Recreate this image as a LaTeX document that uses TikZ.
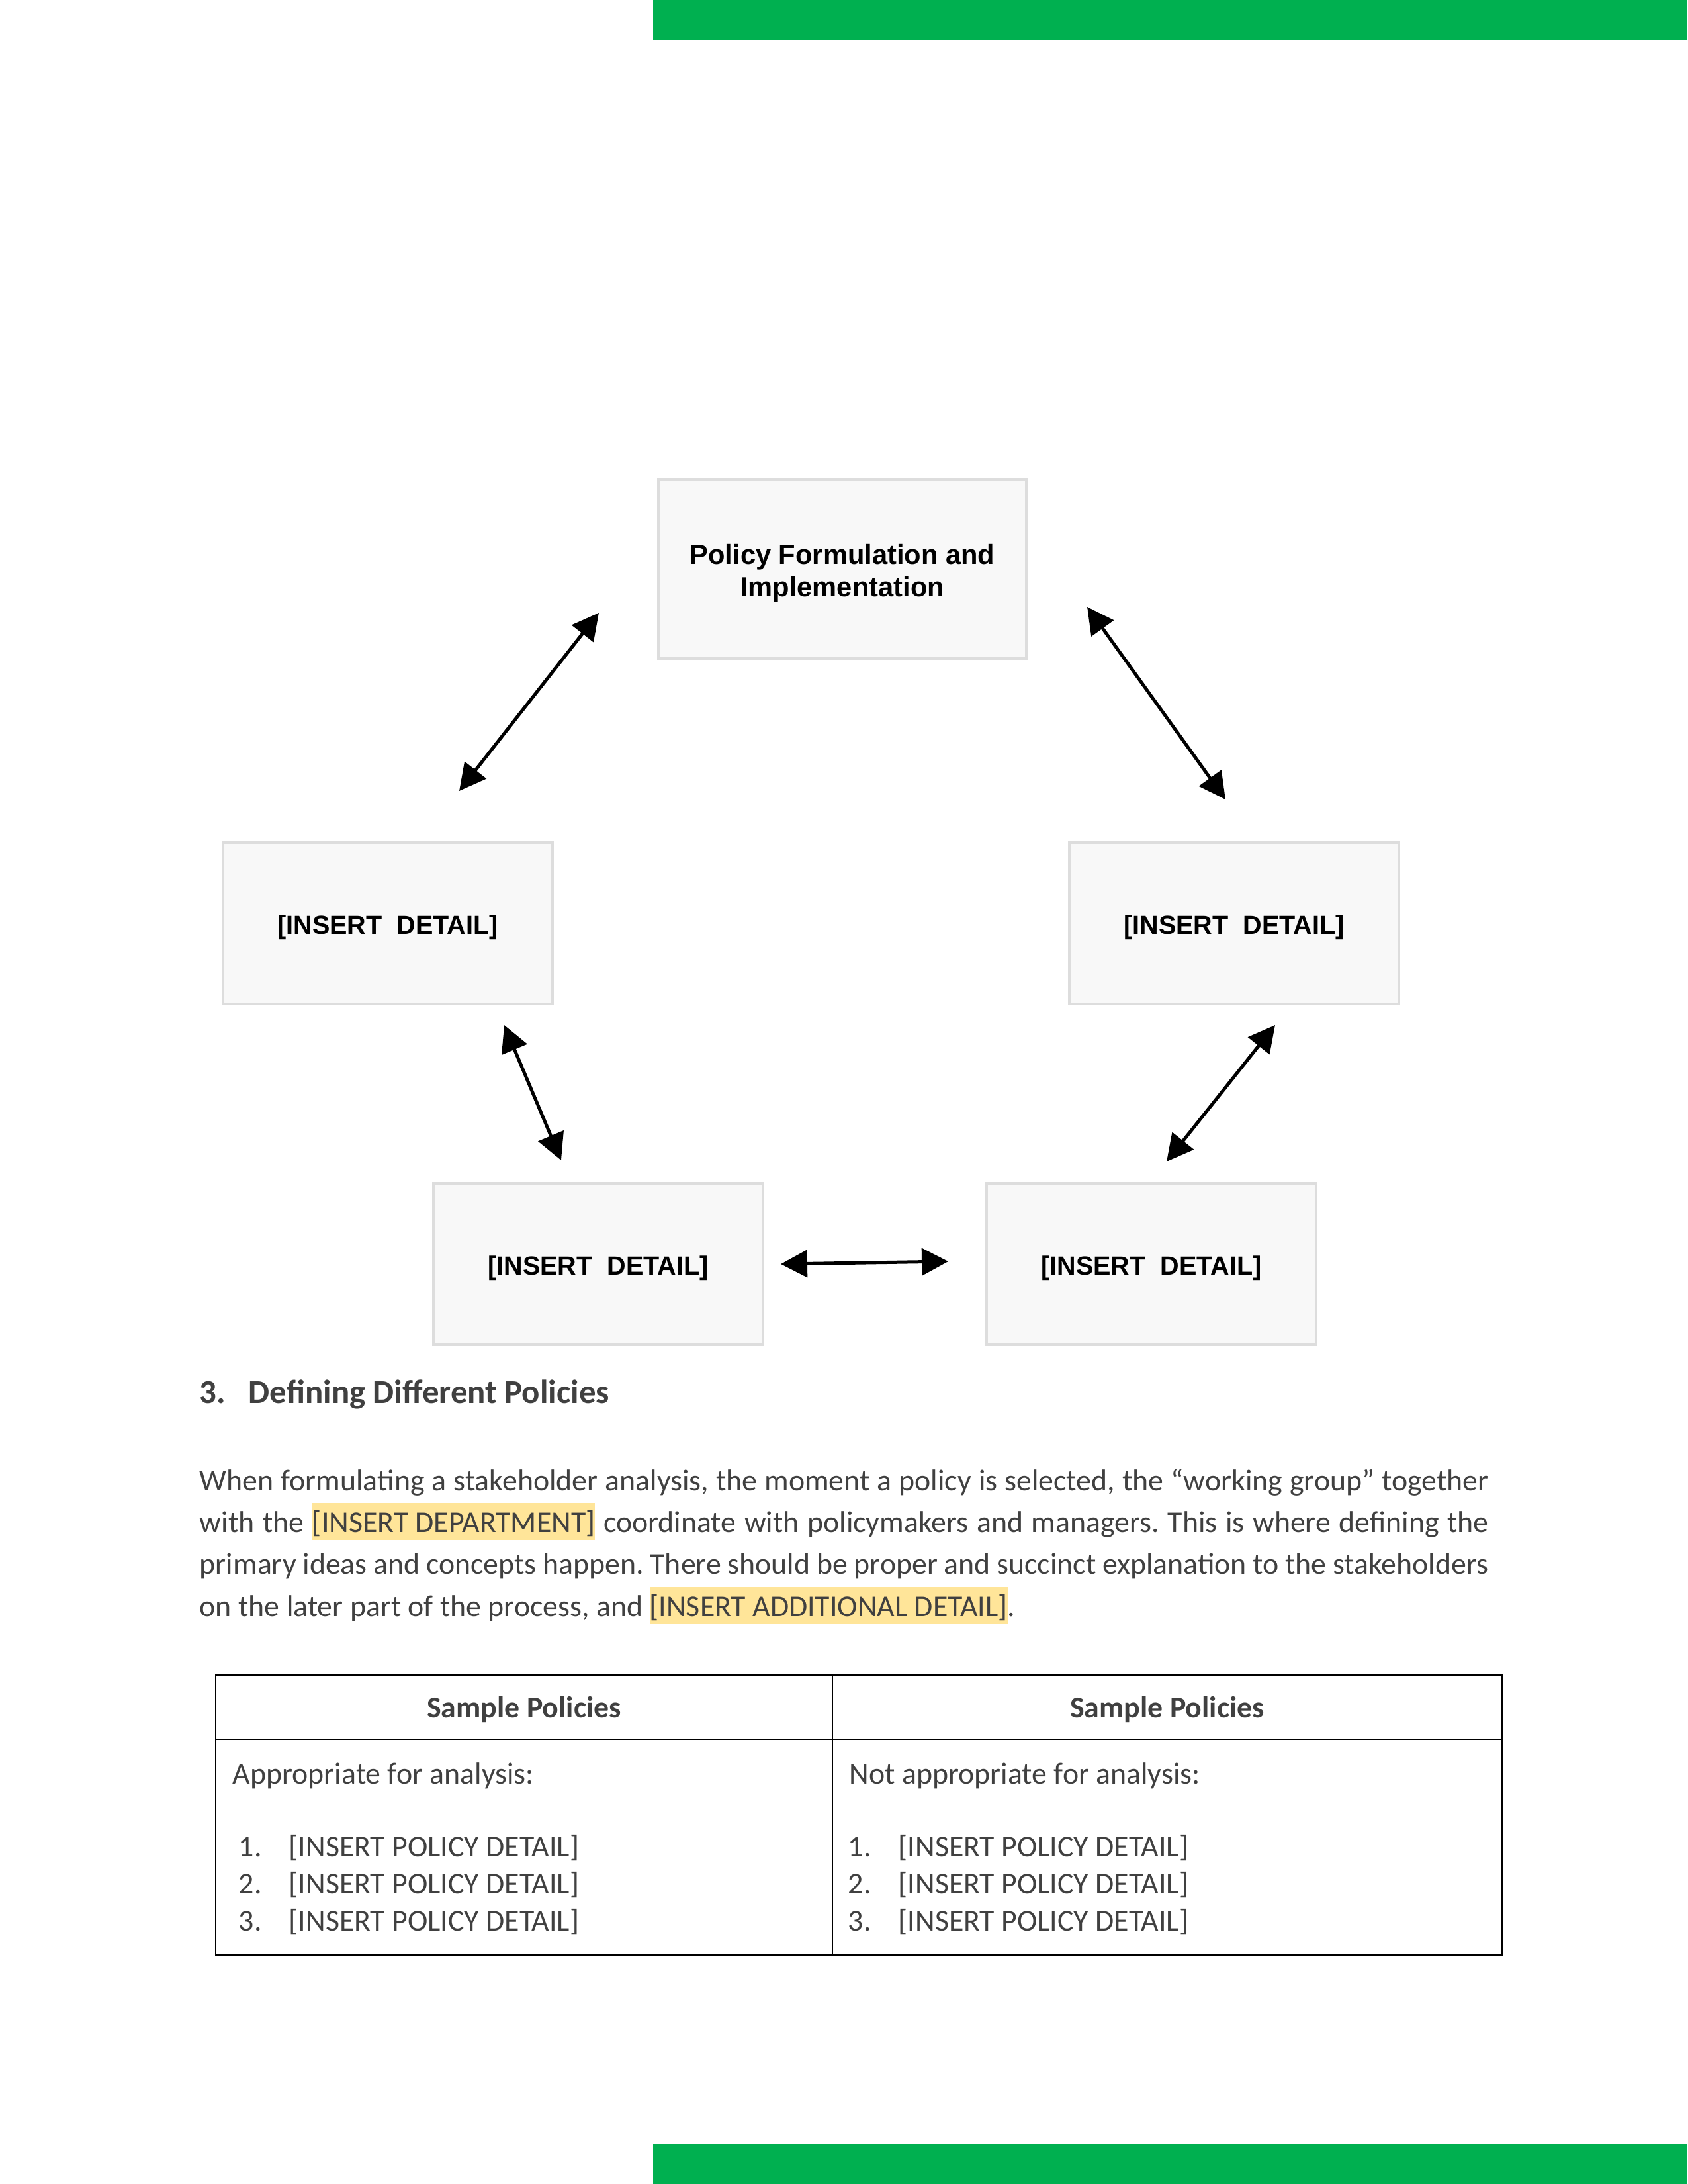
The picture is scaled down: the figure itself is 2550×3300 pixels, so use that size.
\documentclass[tikz,border=0pt]{standalone}
\usepackage{fontspec}
\setmainfont{Carlito}
\newfontfamily\arialf{Liberation Sans}
\usetikzlibrary{arrows.meta}
\frenchspacing
\definecolor{barGreen}{HTML}{00B050}
\definecolor{boxfill}{HTML}{F8F8F8}
\definecolor{boxline}{HTML}{DDDDDD}
\definecolor{txtgray}{HTML}{404040}
\definecolor{hlyellow}{HTML}{FFE599}
\newcommand{\hlbox}[1]{{\setlength{\fboxsep}{0pt}\colorbox{hlyellow}{\rule[-2.9pt]{0pt}{13.5pt}#1}}}
\tikzset{
  flowbox/.style={draw=boxline, fill=boxfill, line width=1pt, inner sep=0pt, align=center,
    font=\arialf\bfseries\fontsize{9.5}{11.8}\selectfont},
  topbox/.style={flowbox, minimum width=133.4pt, minimum height=65pt, font=\arialf\bfseries\fontsize{10}{11.8}\selectfont},
  detbox/.style={flowbox, minimum width=119.5pt, minimum height=58.6pt, text height=9.9pt, text depth=2pt},
  dblarrow/.style={{Triangle[length=9.6pt,width=9.8pt]}-{Triangle[length=9.6pt,width=9.8pt]}, line width=1.2pt, black},
  bodytext/.style={anchor=base west, inner sep=0pt, text=txtgray, font=\fontsize{11}{13.4}\selectfont},
  headtext/.style={anchor=base, inner sep=0pt, text=txtgray, font=\bfseries\fontsize{11}{13.4}\selectfont},
  tblline/.style={line width=0.6pt, black}
}
\begin{document}
\begin{tikzpicture}[x=0.24pt,y=-0.24pt]
\useasboundingbox (0,0) rectangle (2550,3300);
% green bars
\fill[barGreen] (987,0) rectangle (2550,61);
\fill[barGreen] (987,3240) rectangle (2550,3300);
% boxes
\node[topbox] (top) at (1273,860) {\rule{0pt}{10.2pt}Policy Formulation and\\Implementation};
\node[detbox] (left) at (586,1395) {[INSERT\ \ DETAIL]};
\node[detbox] (right) at (1865,1395) {[INSERT\ \ DETAIL]};
\node[detbox] (bl) at (904,1910) {[INSERT\ \ DETAIL]};
\node[detbox] (br) at (1740,1910) {[INSERT\ \ DETAIL]};
% arrow end points
\coordinate (a1s) at (694,1195); \coordinate (a1e) at (905,926);
\coordinate (a2s) at (1643,917); \coordinate (a2e) at (1852,1208);
\coordinate (a3s) at (762,1549); \coordinate (a3e) at (848,1753);
\coordinate (a4s) at (1927,1549); \coordinate (a4e) at (1763,1755);
\coordinate (a5s) at (1180,1910); \coordinate (a5e) at (1433,1906);
\draw[dblarrow] (a1s) -- (a1e);
\draw[dblarrow] (a2s) -- (a2e);
\draw[dblarrow] (a3s) -- (a3e);
\draw[dblarrow] (a4s) -- (a4e);
\draw[dblarrow] (a5s) -- (a5e);
% heading
\node[anchor=base west, inner sep=0pt, text=txtgray, font=\bfseries\fontsize{12.2}{14}\selectfont] (hnum) at (301,2120) {3.};
\node[anchor=base west, inner sep=0pt, text=txtgray, font=\bfseries\fontsize{12.2}{14}\selectfont] (htitle) at (375,2120) {Defining Different Policies};
% paragraph
\node[bodytext] (p1) at (301,2252) {\makebox[467.5pt][s]{When formulating a stakeholder analysis, the moment a policy is selected, the “working group” together}};
\node[bodytext] (p2) at (301,2315) {\makebox[467.5pt][s]{with the \hlbox{[INSERT DEPARTMENT]} coordinate with policymakers and managers. This is where defining the}};
\node[bodytext] (p3) at (301,2378) {\makebox[467.5pt][s]{primary ideas and concepts happen. There should be proper and succinct explanation to the stakeholders}};
\node[bodytext] (p4) at (301,2442) {on the later part of the process, and \hlbox{[INSERT ADDITIONAL DETAIL]}.};
% table
\draw[tblline] (326,2531) rectangle (2270,2954);
\draw[line width=0.9pt] (326,2954) -- (2270,2954);
\draw[tblline] (1258,2531) -- (1258,2954);
\draw[tblline] (326,2628) -- (2270,2628);
\node[headtext] (th1) at (792,2595) {Sample Policies};
\node[headtext] (th2) at (1764,2595) {Sample Policies};
\node[bodytext] (l0) at (351,2695) {Appropriate for analysis:};
\node[bodytext] (r0) at (1283,2695) {Not appropriate for analysis:};
\foreach \n/\yy in {1/2805,2/2861,3/2917}{
  \node[bodytext] (ln\n) at (360,\yy) {\n.};
  \node[bodytext] (lt\n) at (436,\yy) {[INSERT POLICY DETAIL]};
  \node[bodytext] (rn\n) at (1281,\yy) {\n.};
  \node[bodytext] (rt\n) at (1357,\yy) {[INSERT POLICY DETAIL]};
}
\end{tikzpicture}
\end{document}
